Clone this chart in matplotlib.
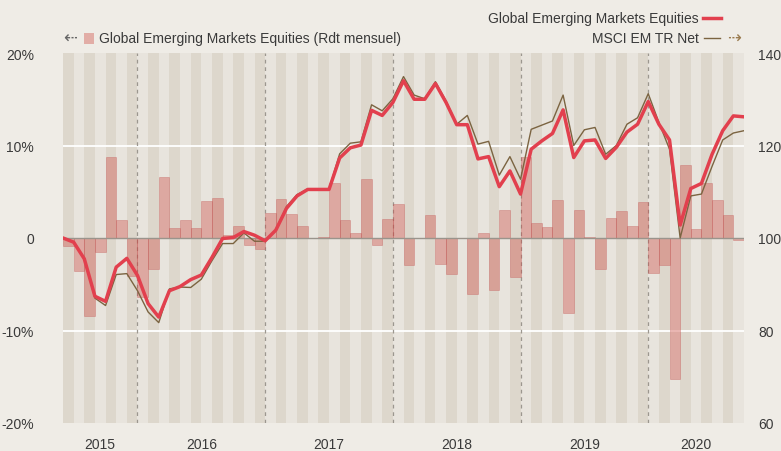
import matplotlib
matplotlib.use("Agg")
import matplotlib.pyplot as plt
from matplotlib.lines import Line2D
from matplotlib.patches import Rectangle

plt.rcParams['font.family'] = ['Liberation Sans', 'DejaVu Sans']

# Monthly returns (%) Jun 2015 .. Sep 2020
monthly_returns = [
    -0.9, -3.6, -8.4, -1.5, 8.8, 1.9, -4.1, -6.4, -3.3, 6.6, 1.1, 1.9,
    1.1, 4.0, 4.3, 0.3, 1.3, -0.8, -1.15, 2.7, 4.2, 2.6, 1.3, 0.05,
    0.1, 5.9, 1.9, 0.5, 6.4, -0.8, 2.05, 3.7, -2.9, 0.05, 2.5, -2.8,
    -3.9, 0.0, -6.0, 0.55, -5.6, 3.0, -4.2, 8.8, 1.65, 1.2, 4.1, -8.1,
    3.0, 0.1, -3.35, 2.15, 2.9, 1.3, 3.9, -3.8, -2.9, -15.2, 7.9, 1.0,
    5.9, 4.1, 2.5, -0.2,
]

# Month-end index values (base 100)
fund_index = [
    100.0, 99.1, 95.5, 87.4, 86.3, 93.7, 95.6, 91.9, 85.8, 82.9, 88.6, 89.5,
    91.0, 92.0, 95.8, 99.9, 100.1, 101.4, 100.6, 99.4, 101.7, 106.4, 109.1, 110.5,
    110.5, 110.5, 117.3, 119.5, 120.1, 127.6, 126.5, 129.3, 134.0, 130.0, 130.0, 133.4,
    129.3, 124.5, 124.5, 117.1, 117.6, 111.1, 114.5, 109.5, 119.2, 121.0, 122.6, 127.7,
    117.4, 121.0, 121.2, 117.2, 119.6, 122.9, 124.6, 129.5, 124.6, 121.2, 102.8, 110.7,
    111.8, 118.1, 123.2, 126.4, 126.2,
]

msci_index = [
    100.0, 99.2, 95.6, 87.0, 85.4, 92.1, 92.3, 88.6, 84.0, 81.7, 89.0, 89.4,
    89.3, 91.1, 95.1, 98.8, 98.8, 101.1, 99.3, 99.3, 101.7, 106.8, 109.4, 110.6,
    110.6, 110.6, 118.2, 120.5, 120.8, 128.8, 127.5, 130.1, 134.9, 130.9, 130.1, 133.8,
    129.6, 124.6, 126.5, 120.3, 120.9, 113.6, 117.6, 112.7, 123.5, 124.4, 125.3, 130.9,
    120.0, 123.4, 123.9, 118.1, 120.0, 124.6, 126.0, 131.2, 125.0, 119.2, 100.0, 109.1,
    109.5, 115.5, 121.2, 122.7, 123.2,
]

year_labels = ['2015', '2016', '2017', '2018', '2019', '2020']
year_starts = [0, 7, 19, 31, 43, 55, 64]  # month offsets of year boundaries

left_ticks = [-20, -10, 0, 10, 20]
left_labels = ['-20%', '-10%', '0', '10%', '20%']
right_ticks = [60, 80, 100, 120, 140]

BG = '#efece6'
DARK = '#ddd7cc'
LIGHT = '#e8e4dd'
RED = '#e2404e'
BROWN = '#7b6441'
BAR = '#d0574f'
TXT = '#3a3a3a'

fig = plt.figure(figsize=(7.81, 4.52), dpi=100, facecolor=BG)
ax = fig.add_axes([63/781, 1-424/452, (744-63)/781, (424-54)/452])
ax.set_facecolor(BG)
n = len(monthly_returns)
ax.set_xlim(0, n)
ax.set_ylim(-20, 20)

for i in range(n):
    ax.axvspan(i, i+1, color=DARK if i % 2 == 0 else LIGHT, lw=0, zorder=0)

for g in (-10, 10):
    ax.axhline(g, color='white', lw=1.3, zorder=1)

for ys in year_starts[1:-1]:
    ax.axvline(ys, color='#9c978f', lw=0.9, ls=(0, (3, 3)), zorder=2)

xb = [i + 0.5 for i in range(n)]
ax.bar(xb, monthly_returns, width=1.0, color=BAR, alpha=0.42,
       edgecolor=(0.75, 0.3, 0.3, 0.2), linewidth=0.5, zorder=3)
ax.axhline(0, color='#9a948c', lw=1.0, zorder=4)

ax.set_yticks(left_ticks)
ax.set_yticklabels(left_labels)
centers = [(year_starts[k] + year_starts[k+1]) / 2 for k in range(len(year_labels))]
ax.set_xticks(centers)
ax.set_xticklabels(year_labels)
ax.tick_params(axis='y', length=0, pad=21, labelsize=10, labelcolor=TXT)
ax.tick_params(axis='x', length=0, pad=10, labelsize=10, labelcolor=TXT)
for s in ax.spines.values():
    s.set_visible(False)

ax2 = ax.twinx()
ax2.set_ylim(60, 140)
ax2.set_xlim(0, n)
xl = list(range(len(fund_index)))
ax2.plot(xl, msci_index, color=BROWN, lw=1.0, zorder=5)
ax2.plot(xl, fund_index, color=RED, lw=2.5, zorder=6)
ax2.set_yticks(right_ticks)
ax2.tick_params(axis='y', length=0, pad=10, labelsize=10, labelcolor=TXT)
for s in ax2.spines.values():
    s.set_visible(False)

# Legend (figure coordinates in pixels)
W, H = 781, 452
def fx(px):
    return px / W
def fy(py):
    return 1 - py / H

fig.text(fx(699), fy(19), 'Global Emerging Markets Equities', ha='right', va='center',
         fontsize=10, color=TXT)
fig.add_artist(Line2D([fx(703), fx(721)], [fy(19), fy(19)], color=RED, lw=2.5,
                      transform=fig.transFigure))

fig.text(fx(63), fy(39), '\u21e0', ha='left', va='center', fontsize=12,
         color='#666666', family=['DejaVu Sans'])
fig.add_artist(Rectangle((fx(84), fy(45)), fx(10), 11/H, color=BAR, alpha=0.42,
                         transform=fig.transFigure, lw=0))
fig.text(fx(99), fy(39), 'Global Emerging Markets Equities (Rdt mensuel)', ha='left',
         va='center', fontsize=10, color=TXT)

fig.text(fx(699), fy(39), 'MSCI EM TR Net', ha='right', va='center', fontsize=10, color=TXT)
fig.add_artist(Line2D([fx(704), fx(720)], [fy(39), fy(39)], color=BROWN, lw=1,
                      transform=fig.transFigure))
fig.text(fx(727), fy(39), '\u21e2', ha='left', va='center', fontsize=12,
         color='#9a7b4f', family=['DejaVu Sans'])

fig.savefig('out.png', dpi=100, facecolor=BG)
